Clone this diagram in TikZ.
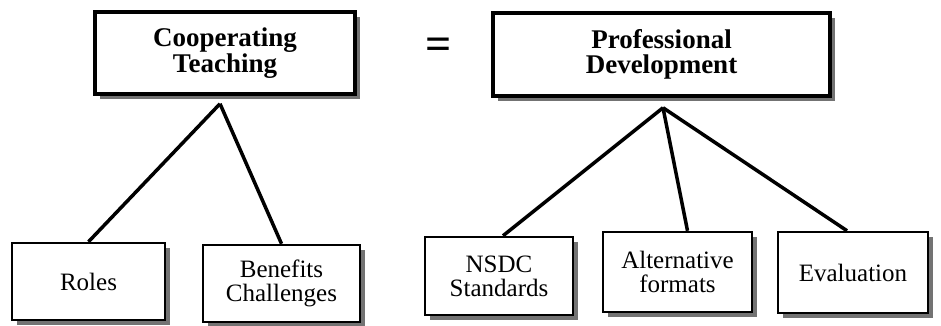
\documentclass[tikz,border=0pt]{standalone}
\usepackage{fontspec}
\setmainfont{Liberation Serif}
\usetikzlibrary{shadows}
\begin{document}
\begin{tikzpicture}[x=1pt,y=-1pt,
  box/.style={draw=black, fill=white, align=center, inner sep=0pt,
    drop shadow={shadow xshift=5pt, shadow yshift=-5pt, fill=black!55, opacity=1}},
  topbox/.style={box, line width=3.5pt, font=\fontsize{27}{25.5}\selectfont\bfseries},
  botbox/.style={box, line width=2.5pt, font=\fontsize{25}{24}\selectfont},
  link/.style={line width=3.5pt}]
\useasboundingbox (0,0) rectangle (941,326);
\fill[white] (0,0) rectangle (941,326);

\node[topbox, minimum width=260pt, minimum height=82pt] (ct) at (225,53) {Cooperating\\Teaching};
\node[topbox, minimum width=337pt, minimum height=83pt] (pd) at (661.5,54.5) {Professional\\Development};
\node[font=\fontsize{46}{46}\selectfont\bfseries] (eq) at (439,48.5) {=};

\node[botbox, minimum width=153pt, minimum height=77pt] (roles) at (88.5,281.5) {Roles};
\node[botbox, minimum width=157pt, minimum height=77pt] (bc) at (281.5,283.5) {Benefits\\Challenges};
\node[botbox, minimum width=148pt, minimum height=78pt] (nsdc) at (499,276) {NSDC\\Standards};
\node[botbox, minimum width=149pt, minimum height=80pt] (alt) at (677.5,272) {Alternative\\formats};
\node[botbox, minimum width=150pt, minimum height=81pt] (ev) at (853,272.5) {Evaluation};

\draw[link] ([xshift=-5pt,yshift=-8pt]ct.south) -- (roles.north);
\draw[link] ([xshift=-5pt,yshift=-8pt]ct.south) -- (bc.north);
\draw[link] ([xshift=1.5pt,yshift=-10pt]pd.south) -- ([xshift=4pt]nsdc.north);
\draw[link] ([xshift=1.5pt,yshift=-10pt]pd.south) -- ([xshift=10pt]alt.north);
\draw[link] ([xshift=1.5pt,yshift=-10pt]pd.south) -- ([xshift=-6pt]ev.north);
\end{tikzpicture}
\end{document}
